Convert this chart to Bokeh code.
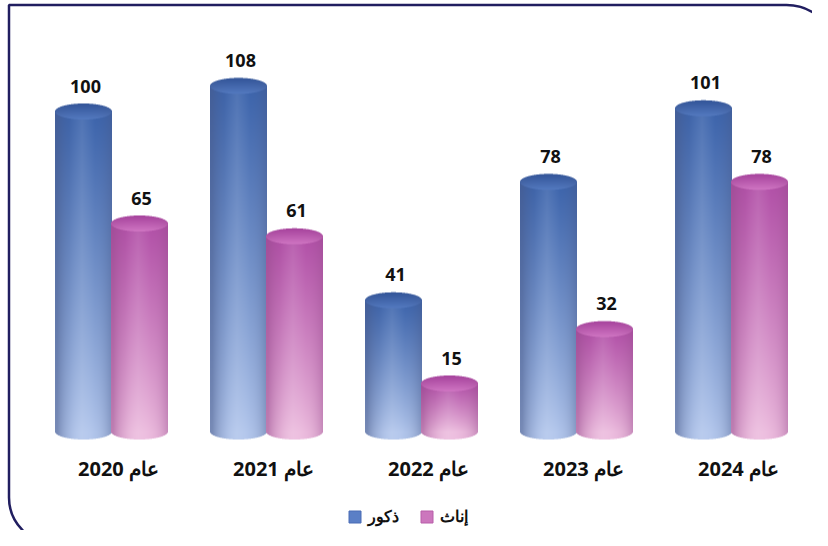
import numpy as np
from bokeh.plotting import figure
from bokeh.models import (Range1d, ColumnDataSource, LabelSet, BoxAnnotation,
                          Legend, LegendItem)
from bokeh.core.properties import value
from bokeh.embed import file_html
from bokeh.resources import INLINE

# ---------------- data ----------------
years = ["عام 2020", "عام 2021", "عام 2022", "عام 2023", "عام 2024"]
males = [100, 108, 41, 78, 101]
females = [65, 61, 15, 32, 78]
series_names = ["ذكور", "إناث"]

# ---------------- layout constants ----------------
W, H = 812, 530
PX_PER_UNIT_Y = 3.2      # pixels per value unit
PX_PER_GROUP = 155       # pixels between year groups
BASE_PX = 99             # base line, pixels from bottom
GROUP0_PX = 111          # first group centre, pixels from left
BAR_W_PX = 57
ELL_PX = 8.0             # half height of ellipse caps
SS = 3                   # supersampling for smooth edges

y0 = -BASE_PX / PX_PER_UNIT_Y
y1 = (H - BASE_PX) / PX_PER_UNIT_Y
x0 = -GROUP0_PX / PX_PER_GROUP
x1 = (W - GROUP0_PX) / PX_PER_GROUP
BAR_W = BAR_W_PX / PX_PER_GROUP
OFF = 28 / PX_PER_GROUP
ELL = ELL_PX / PX_PER_UNIT_Y

p = figure(width=W, height=H, x_range=Range1d(x0, x1), y_range=Range1d(y0, y1),
           output_backend="svg", toolbar_location=None, min_border=0,
           x_axis_location=None, y_axis_location=None)
p.xgrid.visible = False
p.ygrid.visible = False
p.outline_line_color = None
p.background_fill_color = "#ffffff"
p.border_fill_color = "#ffffff"

STYLE = {
    "m": dict(top=(60, 100, 172), bot=(178, 198, 236), edge=(72, 90, 138),
              cap_front=(84, 122, 192), cap_back=(50, 84, 152)),
    "f": dict(top=(178, 80, 168), bot=(236, 188, 222), edge=(152, 76, 142),
              cap_front=(208, 118, 195), cap_back=(166, 66, 156)),
}


def cylinder(v, st):
    h_body = v * PX_PER_UNIT_Y
    ny = int(np.ceil(h_body + 2 * ELL_PX))
    nx = BAR_W_PX
    ys = (np.arange(ny * SS) + 0.5) / SS - ELL_PX
    xs = (np.arange(nx * SS) + 0.5) / SS
    u = xs / (nx / 2.0) - 1.0
    Y, U = np.meshgrid(ys, u, indexing="ij")
    inside_u = np.abs(U) <= 1
    root = np.sqrt(np.clip(1 - U ** 2, 0, 1))
    body = inside_u & (Y >= -ELL_PX * root) & (Y <= h_body)
    capv = (Y - h_body) / ELL_PX
    cap = inside_u & (capv ** 2 + U ** 2 <= 1)

    top = np.array(st["top"], float)
    bot = np.array(st["bot"], float)
    edge = np.array(st["edge"], float)
    t = np.clip(Y / max(h_body, 1.0), 0, 1)[..., None]
    tt = t ** 0.9
    col = bot * (1 - tt) + top * tt
    k = (np.clip(np.abs(U - 0.08), 0, 1) ** 2.6 * 0.55)[..., None]
    col = col * (1 - k) + edge * k
    hl = np.clip(1 - np.abs(U + 0.05) * 2.2, 0, 1)[..., None] * 0.10
    col = col * (1 - hl) + 255 * hl

    cf = np.array(st["cap_front"], float)
    cb = np.array(st["cap_back"], float)
    s = np.clip((capv + 1) / 2, 0, 1)[..., None]
    capcol = cf * (1 - s) + cb * s
    kc = (np.clip(np.abs(U), 0, 1) ** 3 * 0.25)[..., None]
    capcol = capcol * (1 - kc) + edge * kc
    col = np.where(cap[..., None], capcol, col)
    alpha = (body | cap).astype(float)

    col = col * alpha[..., None]
    col = col.reshape(ny, SS, nx, SS, 3).mean(axis=(1, 3))
    a = alpha.reshape(ny, SS, nx, SS).mean(axis=(1, 3))
    rgb = np.where(a[..., None] > 0, col / np.maximum(a[..., None], 1e-6), 0)
    img = np.zeros((ny, nx, 4), dtype=np.uint8)
    img[..., :3] = np.clip(rgb, 0, 255).astype(np.uint8)
    img[..., 3] = np.clip(a * 255, 0, 255).astype(np.uint8)
    return img.view(dtype=np.uint32).reshape((ny, nx)), ny


for key, vals, sign in (("m", males, -1), ("f", females, 1)):
    imgs, xs, ys, dws, dhs = [], [], [], [], []
    for i, v in enumerate(vals):
        img, ny = cylinder(v, STYLE[key])
        imgs.append(img)
        xs.append(i + sign * OFF - BAR_W / 2)
        ys.append(-ELL)
        dws.append(BAR_W)
        dhs.append(ny / PX_PER_UNIT_Y)
    p.image_rgba(image="image", x="x", y="y", dw="dw", dh="dh",
                 source=ColumnDataSource(dict(image=imgs, x=xs, y=ys, dw=dws, dh=dhs)))

# value labels
lab_x = [i - OFF for i in range(len(years))] + [i + OFF for i in range(len(years))]
lab_y = males + females
lab_src = ColumnDataSource(dict(x=lab_x, y=lab_y, t=[str(v) for v in lab_y]))
p.add_layout(LabelSet(x="x", y="y", text="t", source=lab_src, y_offset=19, x_offset=2,
                      text_align="center", text_baseline="alphabetic",
                      text_font=value("Open Sans"), text_font_style="bold",
                      text_font_size="18px", text_color="#111111"))

# category labels
cat_src = ColumnDataSource(dict(x=list(range(len(years))), y=[0] * len(years), t=years))
p.add_layout(LabelSet(x="x", y="y", text="t", source=cat_src, y_offset=-37, x_offset=7,
                      text_align="center", text_baseline="middle",
                      text_font=value("Open Sans"), text_font_style="bold",
                      text_font_size="20px", text_color="#111111"))

# legend
rm = p.quad(left=[np.nan], right=[np.nan], bottom=[np.nan], top=[np.nan],
            fill_color="#5b7fc6", line_color="#4a6db5")
rf = p.quad(left=[np.nan], right=[np.nan], bottom=[np.nan], top=[np.nan],
            fill_color="#cc77bd", line_color="#b85fa9")
legend = Legend(items=[LegendItem(label=series_names[0], renderers=[rm]),
                       LegendItem(label=series_names[1], renderers=[rf])],
                orientation="horizontal", location=(347, 3),
                glyph_width=15, glyph_height=15, label_standoff=6, spacing=20,
                padding=0, margin=0, border_line_color=None,
                background_fill_alpha=0, label_text_font="Open Sans",
                label_text_font_style="bold", label_text_font_size="16px",
                label_text_color="#111111", label_height=15)
p.add_layout(legend, "center")

# rounded frame
p.add_layout(BoxAnnotation(left=8.5, right=836, top=H - 4.5, bottom=-13,
                           left_units="screen", right_units="screen",
                           top_units="screen", bottom_units="screen",
                           fill_alpha=0, line_color="#211e60", line_alpha=1.0,
                           line_width=2.5, border_radius=(0, 50, 0, 46)))

open("out.html", "w").write(file_html(p, INLINE))
